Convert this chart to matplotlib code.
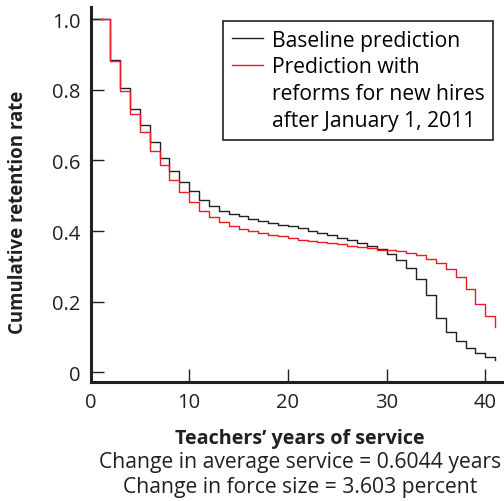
import matplotlib
matplotlib.use('Agg')
import matplotlib.pyplot as plt
from matplotlib.lines import Line2D

plt.rcParams['font.family'] = ['Open Sans', 'DejaVu Sans']

# Data (annual steps)
years_base = list(range(0, 42))
baseline = [1.0, 1.0, 0.886, 0.806, 0.747, 0.701, 0.652, 0.607, 0.569, 0.538,
            0.513, 0.488, 0.472, 0.458, 0.448, 0.442, 0.434, 0.427, 0.422, 0.418,
            0.413, 0.408, 0.401, 0.395, 0.389, 0.381, 0.374, 0.366, 0.358, 0.349,
            0.335, 0.318, 0.295, 0.264, 0.218, 0.153, 0.113, 0.087, 0.067, 0.054,
            0.043, 0.035]
years_reform = list(range(1, 42))
reform = [1.0, 0.883, 0.798, 0.732, 0.680, 0.628, 0.586, 0.546, 0.512,
          0.483, 0.458, 0.439, 0.425, 0.415, 0.406, 0.399, 0.394, 0.389, 0.385,
          0.379, 0.374, 0.371, 0.368, 0.365, 0.362, 0.358, 0.356, 0.352, 0.347,
          0.345, 0.342, 0.338, 0.331, 0.321, 0.309, 0.293, 0.269, 0.235, 0.194,
          0.158, 0.127]

xticks = [0, 10, 20, 30, 40]
yticks = [0, 0.2, 0.4, 0.6, 0.8, 1.0]
ytick_labels = ['0', '0.2', '0.4', '0.6', '0.8', '1.0']

legend_labels = ['Baseline prediction', 'Prediction with',
                 'reforms for new hires', 'after January 1, 2011']

W, H = 504, 502
fig = plt.figure(figsize=(W / 100, H / 100), dpi=100)
ax = fig.add_axes([90.5 / W, (H - 383) / H, (W - 90.5) / W, (383 - 8) / H])

ax.step(years_base, baseline, where='post', color='#231f20', lw=1.0)
ax.step(years_reform, reform, where='post', color='#ed1c24', lw=1.0)

ax.set_xlim(0, 41.9)
ax.set_ylim(-0.028, 1.035)
for s in ['top', 'right']:
    ax.spines[s].set_visible(False)
for s in ['left', 'bottom']:
    ax.spines[s].set_linewidth(2.2)
    ax.spines[s].set_color('#231f20')

ax.set_xticks(xticks)
ax.set_xticklabels([str(v) for v in xticks])
ax.set_yticks(yticks)
ax.set_yticklabels(ytick_labels)
ax.tick_params(direction='in', length=9.5, width=1.0, labelsize=14.5, pad=7,
               color='#231f20', labelcolor='#231f20')

handles = [Line2D([], [], color='#231f20', lw=1.0),
           Line2D([], [], color='#ed1c24', lw=1.0),
           Line2D([], [], color='none'),
           Line2D([], [], color='none')]
leg = ax.legend(handles, legend_labels, loc='upper left',
                bbox_to_anchor=(222.7 / W, 1 - 21.7 / H),
                bbox_transform=fig.transFigure, borderaxespad=0,
                fontsize=15.2, handlelength=1.5, handletextpad=0.4,
                labelspacing=0.27, borderpad=0.42, fancybox=False,
                framealpha=1, edgecolor='#231f20')
leg.get_frame().set_linewidth(1.2)

fig.text(18 / W, 1 - 212 / H, 'Cumulative retention rate', rotation=90,
         ha='center', va='center', fontsize=13.4, fontweight='bold',
         color='#231f20')
fig.text(300 / W, 1 - 439 / H, 'Teachers\u2019 years of service', ha='center',
         va='center', fontsize=14.2, fontweight='bold', color='#231f20')
fig.text(300 / W, 1 - 463 / H, 'Change in average service = 0.6044 years',
         ha='center', va='center', fontsize=15.2, color='#231f20')
fig.text(300 / W, 1 - 488 / H, 'Change in force size = 3.603 percent',
         ha='center', va='center', fontsize=15.2, color='#231f20')

fig.savefig('out.png', dpi=100)
